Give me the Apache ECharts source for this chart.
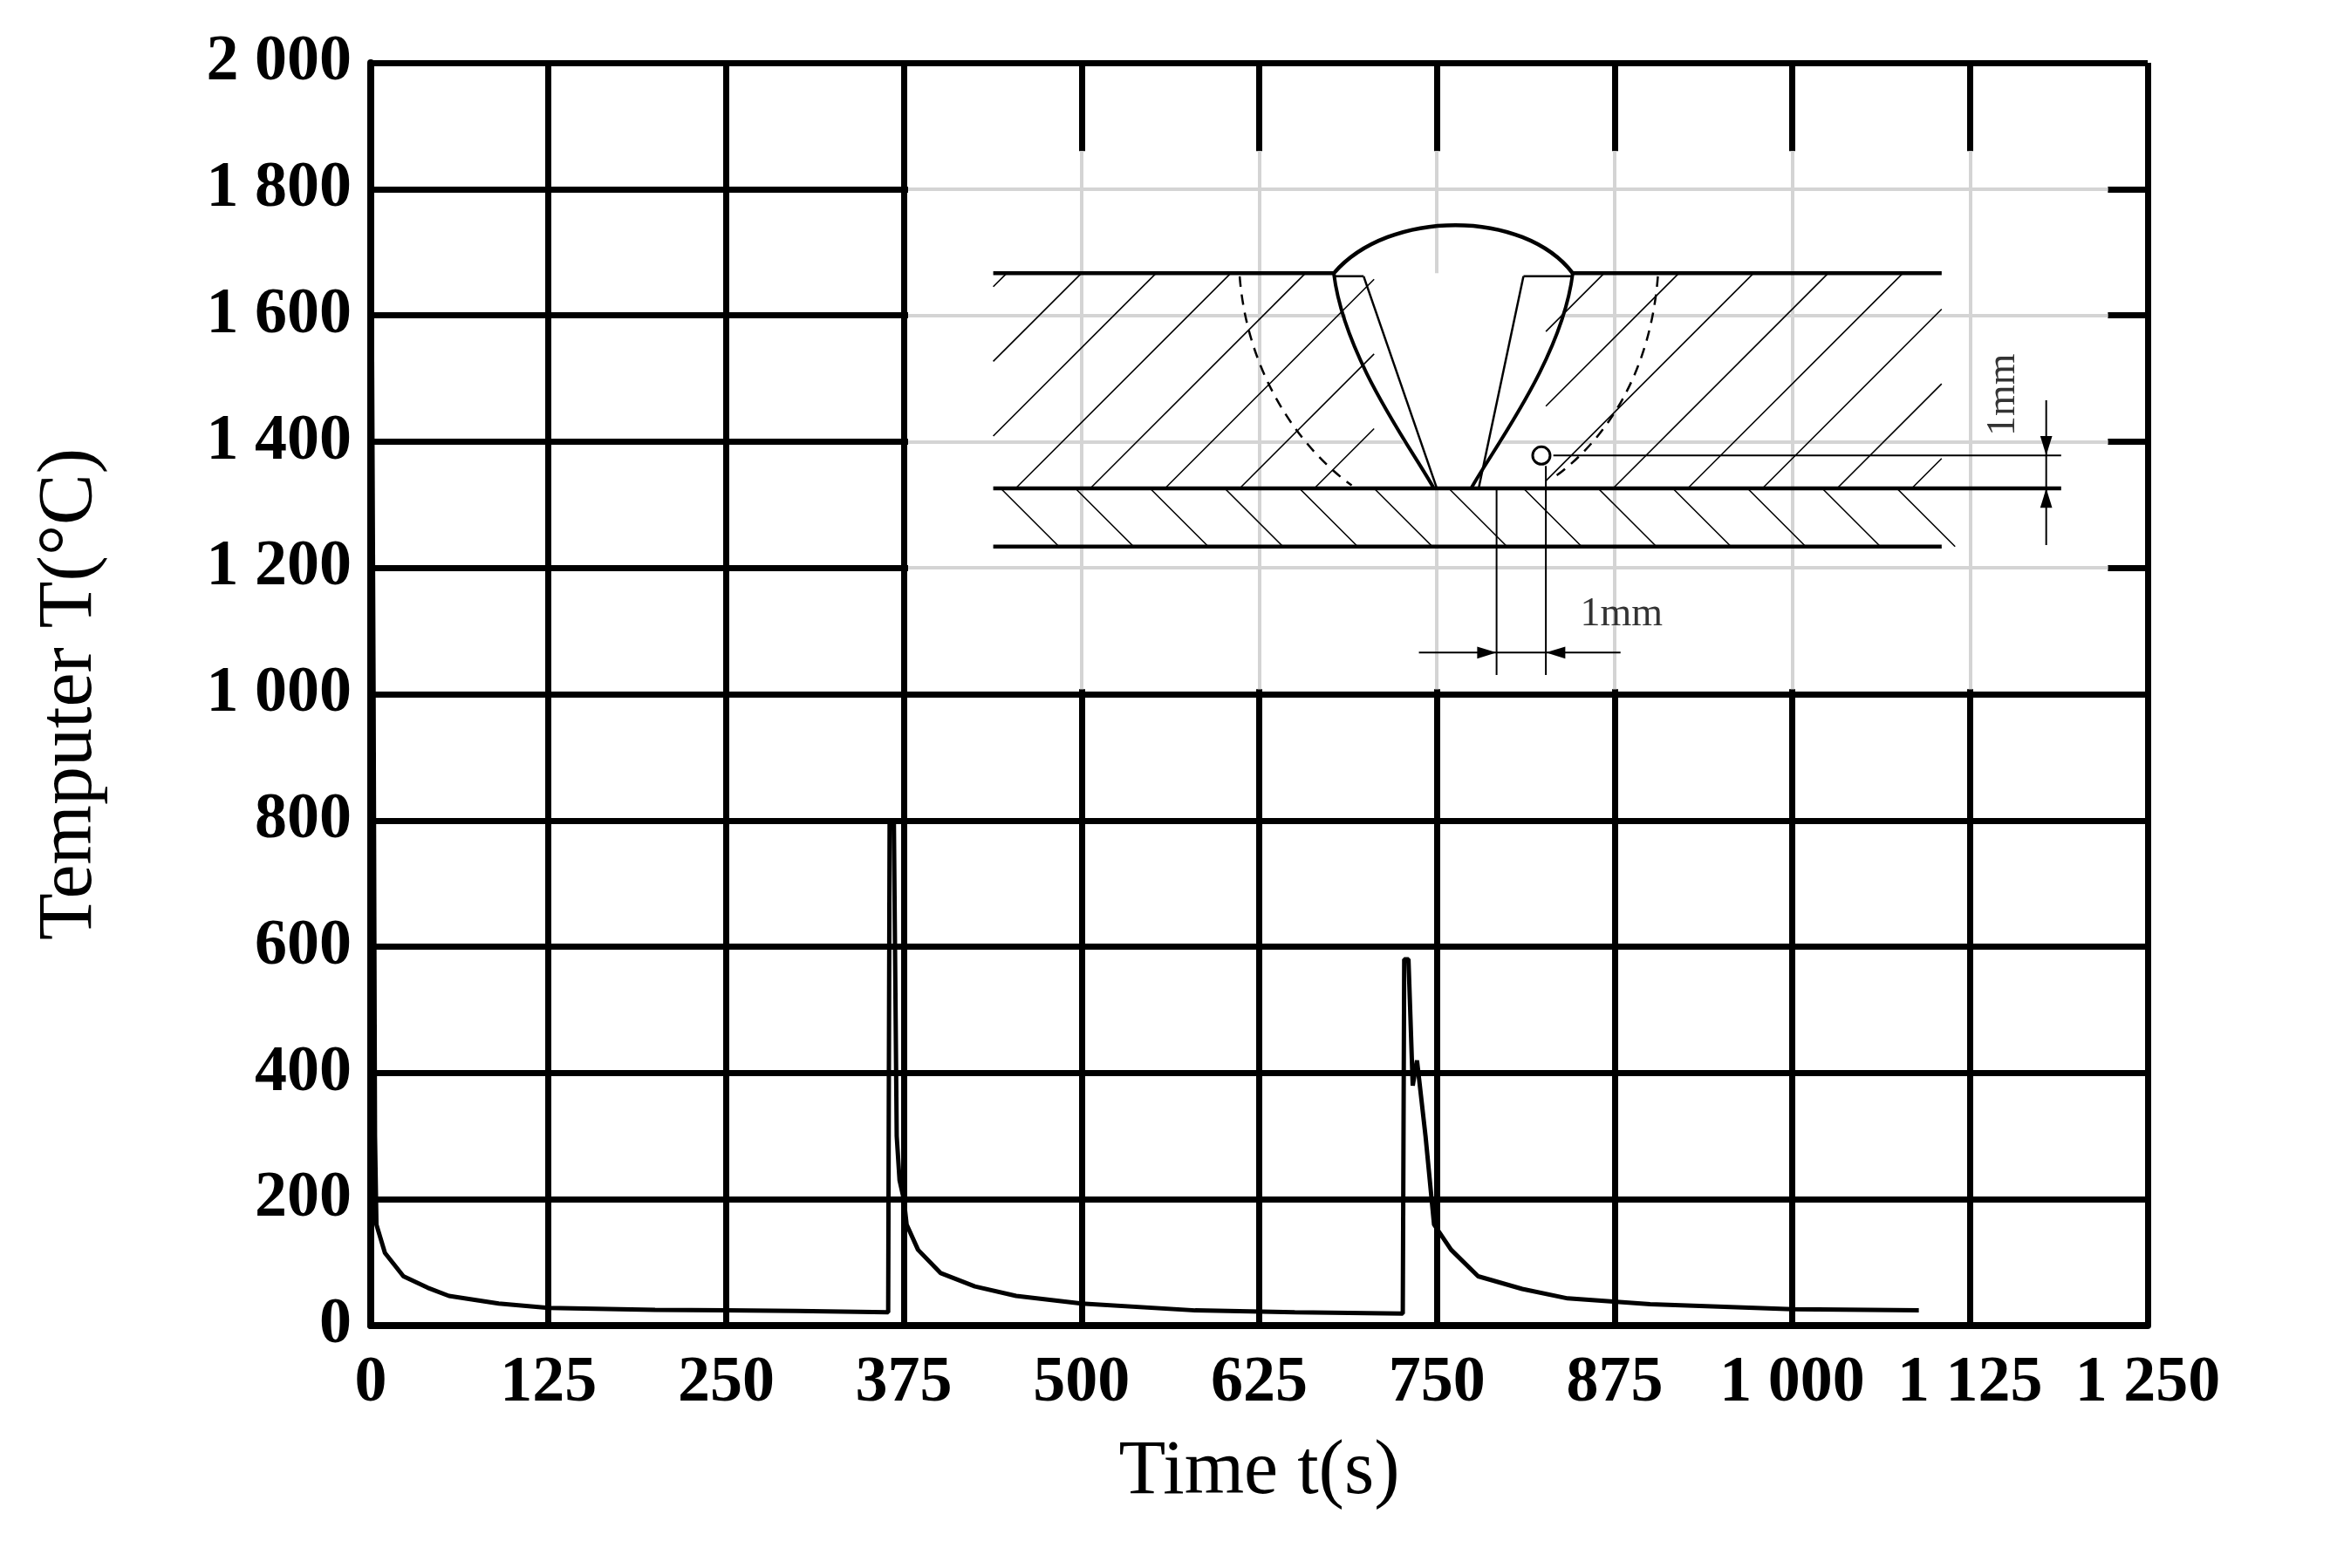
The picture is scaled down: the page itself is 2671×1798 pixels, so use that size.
<!DOCTYPE html>
<html style="height: 100%">
<head>
  <meta charset="utf-8">
  <script src="https://cdn.jsdelivr.net/npm/echarts@6/dist/echarts.min.js"></script>
</head>
<body style="height: 100%; margin: 0; background: #fff">
  <div id="container" style="height: 100%"></div>
  <script>
    // measured temperature curve (time s, temperature °C)
    var times = [0, 1, 2, 3, 4, 10, 23, 40, 55, 90, 125, 200, 250, 300, 364,
      365, 368, 370, 372, 375, 377, 385, 401, 425, 454, 500, 580, 650, 726,
      727, 730, 733, 736, 742, 748, 760, 779, 810, 842, 900, 1000, 1089];
    var temps = [2000, 1500, 1000, 300, 160, 115, 78, 60, 47, 35, 28, 25, 24, 23, 21,
      800, 800, 300, 230, 200, 160, 120, 83, 62, 47, 35, 24, 21, 19,
      580, 580, 380, 420, 300, 160, 120, 78, 58, 43, 34, 26, 24];
    var xTicks = [0, 125, 250, 375, 500, 625, 750, 875, 1000, 1125, 1250];
    var yTicks = [0, 200, 400, 600, 800, 1000, 1200, 1400, 1600, 1800, 2000];

    var dom = document.getElementById('container');
    var myChart = echarts.init(dom, null, { renderer: 'canvas' });
    var font = 'Liberation Serif';

    function fmt(v) {
      return v >= 1000 ? Math.floor(v / 1000) + ' ' + String(v % 1000).padStart(3, '0') : String(v);
    }

    // light grey grid inside the inset area
    var greyLines = [];
    xTicks.forEach(function (x) {
      if (x > 375 && x < 1250) greyLines.push([{ coord: [x, 1008] }, { coord: [x, 1860] }]);
    });
    yTicks.forEach(function (y) {
      if (y > 1000 && y < 2000) greyLines.push([{ coord: [378, y] }, { coord: [1222, y] }]);
    });

    var option = {
      animation: false,
      grid: { left: 425, right: 209, top: 72, bottom: 278 },
      xAxis: {
        type: 'value', min: 0, max: 1250, interval: 125,
        name: 'Time t(s)', nameLocation: 'middle', nameGap: 125,
        nameTextStyle: { fontFamily: font, fontSize: 88, color: '#000' },
        axisLine: { lineStyle: { color: '#000', width: 8 } },
        axisTick: { show: false },
        axisLabel: { fontFamily: font, fontSize: 74, fontWeight: 'bold', color: '#000', margin: 30, formatter: fmt },
        splitLine: { lineStyle: { color: '#000', width: 7 } }
      },
      yAxis: {
        type: 'value', min: 0, max: 2000, interval: 200,
        name: 'Temputer T(°C)', nameLocation: 'middle', nameGap: 300,
        nameTextStyle: { fontFamily: font, fontSize: 88, color: '#000' },
        axisLine: { show: true, lineStyle: { color: '#000', width: 8 } },
        axisTick: { show: false },
        axisLabel: { fontFamily: font, fontSize: 74, fontWeight: 'bold', color: '#000', margin: 22, formatter: fmt },
        splitLine: { lineStyle: { color: '#000', width: 7 } }
      },
      series: [
        {
          type: 'line', data: [], silent: true,
          markArea: {
            silent: true,
            itemStyle: { color: '#fff', opacity: 1 },
            data: [[{ coord: [378, 1008] }, { coord: [1222, 1860] }]]
          },
          markLine: {
            silent: true, symbol: 'none', label: { show: false },
            lineStyle: { color: '#d4d4d4', width: 4, type: 'solid' },
            data: greyLines
          }
        },
        {
          type: 'line', showSymbol: false, z: 5,
          lineStyle: { color: '#000', width: 5 },
          data: times.map(function (t, i) { return [t, temps[i]]; })
        }
      ]
    };
    myChart.setOption(option);

    // weld cross-section inset (schematic, drawn in page pixels)
    var sx = 2671 / 1560, sy = 1798 / 1050;
    function P(x, y) { return [x * sx, y * sy]; }
    function line(a, b, w, dash) {
      return { type: 'line', z: 20, shape: { x1: a[0], y1: a[1], x2: b[0], y2: b[1] },
        style: { stroke: '#000', lineWidth: w, lineDash: dash || null } };
    }
    // clip a 45° hatch segment (bottom-left to top-right) to [lo, hi] in x
    function hatch(x0, lo, hi, out) {
      var xa = x0, ya = 327, xb = x0 + 144, yb = 183;
      if (xa < lo) { ya -= lo - xa; xa = lo; }
      if (xb > hi) { yb += xb - hi; xb = hi; }
      if (xb - xa > 4) out.push(line(P(xa, ya), P(xb, yb), 1.6));
    }
    var g = [];
    for (var x0 = 530; x0 < 1300; x0 += 50) {
      hatch(x0, 665, 920, g);
      hatch(x0, 1035, 1300, g);
    }
    // hatching, lower plate
    for (var x1 = 670; x1 < 1300; x1 += 50) {
      g.push(line(P(x1, 327), P(x1 + 39, 366), 1.6));
    }
    // white weld interior over hatch
    g.push({ type: 'polygon', z: 19,
      shape: { points: [P(893, 183), P(1053, 183), P(1030, 260), P(985, 327), P(960, 327), P(915, 260)] },
      style: { fill: '#fff' } });
    g.push(line(P(665, 183), P(893, 183), 4.5));
    g.push(line(P(1053, 183), P(1300, 183), 4.5));
    g.push(line(P(665, 327), P(1380, 327), 4.5));
    g.push(line(P(665, 366), P(1300, 366), 4.5));
    // weld bead
    g.push({ type: 'bezierCurve', z: 20,
      shape: { x1: P(893, 183)[0], y1: P(893, 183)[1], x2: P(1053, 183)[0], y2: P(1053, 183)[1],
        cpx1: P(930, 140)[0], cpy1: P(930, 140)[1], cpx2: P(1020, 140)[0], cpy2: P(1020, 140)[1] },
      style: { stroke: '#000', fill: 'none', lineWidth: 4.5 } });
    g.push({ type: 'bezierCurve', z: 20,
      shape: { x1: P(893, 183)[0], y1: P(893, 183)[1], x2: P(960, 327)[0], y2: P(960, 327)[1],
        cpx1: P(900, 240)[0], cpy1: P(900, 240)[1], cpx2: P(945, 300)[0], cpy2: P(945, 300)[1] },
      style: { stroke: '#000', fill: 'none', lineWidth: 4 } });
    g.push({ type: 'bezierCurve', z: 20,
      shape: { x1: P(1053, 183)[0], y1: P(1053, 183)[1], x2: P(985, 327)[0], y2: P(985, 327)[1],
        cpx1: P(1046, 240)[0], cpy1: P(1046, 240)[1], cpx2: P(1000, 300)[0], cpy2: P(1000, 300)[1] },
      style: { stroke: '#000', fill: 'none', lineWidth: 4 } });
    g.push(line(P(913, 185), P(962, 327), 2.5));
    g.push(line(P(1020, 185), P(990, 327), 2.5));
    g.push(line(P(893, 185), P(913, 185), 2.5));
    g.push(line(P(1020, 185), P(1053, 185), 2.5));
    // heat affected zone
    g.push({ type: 'bezierCurve', z: 20,
      shape: { x1: P(830, 185)[0], y1: P(830, 185)[1], x2: P(905, 325)[0], y2: P(905, 325)[1],
        cpx1: P(835, 250)[0], cpy1: P(835, 250)[1], cpx2: P(870, 300)[0], cpy2: P(870, 300)[1] },
      style: { stroke: '#000', fill: 'none', lineWidth: 2.5, lineDash: [12, 9] } });
    g.push({ type: 'bezierCurve', z: 20,
      shape: { x1: P(1110, 185)[0], y1: P(1110, 185)[1], x2: P(1040, 320)[0], y2: P(1040, 320)[1],
        cpx1: P(1105, 250)[0], cpy1: P(1105, 250)[1], cpx2: P(1075, 295)[0], cpy2: P(1075, 295)[1] },
      style: { stroke: '#000', fill: 'none', lineWidth: 2.5, lineDash: [12, 9] } });
    // measuring point and dimensions
    g.push({ type: 'circle', z: 21, shape: { cx: P(1032, 305)[0], cy: P(1032, 305)[1], r: 10 },
      style: { stroke: '#000', fill: '#fff', lineWidth: 3 } });
    g.push(line(P(1040, 305), P(1380, 305), 2));
    g.push(line(P(1370, 268), P(1370, 365), 2));
    g.push({ type: 'polygon', z: 21, shape: { points: [P(1370, 305), P(1366, 292), P(1374, 292)] }, style: { fill: '#000' } });
    g.push({ type: 'polygon', z: 21, shape: { points: [P(1370, 327), P(1366, 340), P(1374, 340)] }, style: { fill: '#000' } });
    g.push(line(P(1002, 327), P(1002, 452), 2));
    g.push(line(P(1035, 312), P(1035, 452), 2));
    g.push(line(P(950, 437), P(1085, 437), 2));
    g.push({ type: 'polygon', z: 21, shape: { points: [P(1002, 437), P(989, 433), P(989, 441)] }, style: { fill: '#000' } });
    g.push({ type: 'polygon', z: 21, shape: { points: [P(1035, 437), P(1048, 433), P(1048, 441)] }, style: { fill: '#000' } });
    g.push({ type: 'text', z: 21, x: P(1058, 398)[0], y: P(1058, 398)[1],
      style: { text: '1mm', fontFamily: font, fontSize: 46, fill: '#333' } });
    g.push({ type: 'text', z: 21, x: P(1328, 292)[0], y: P(1328, 292)[1], rotation: Math.PI / 2,
      style: { text: '1mm', fontFamily: font, fontSize: 46, fill: '#333' } });
    myChart.setOption({ graphic: g });
  </script>
</body>
</html>
